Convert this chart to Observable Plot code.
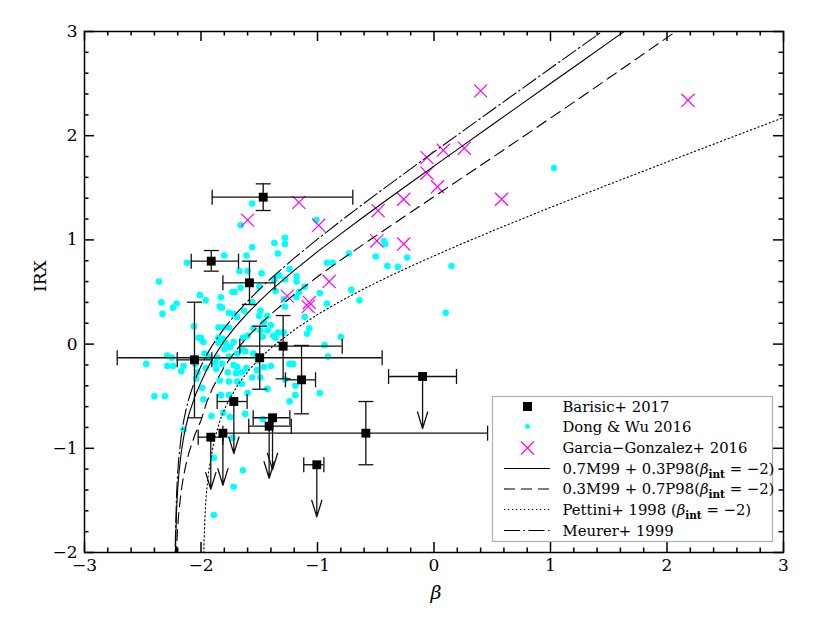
<!DOCTYPE html>
<html><head><meta charset="utf-8">
<script src="https://cdn.jsdelivr.net/npm/d3@7"></script>
<script src="https://cdn.jsdelivr.net/npm/@observablehq/plot@0.6"></script>
<style>body{margin:0;background:#fff}#chart{width:833px;height:623px}</style>
</head><body><div id="chart"></div>
<script>
// ---------- axis ticks ----------
const xMajor = [-3, -2, -1, 0, 1, 2, 3];
const xMinor = [-2.8, -2.6, -2.4, -2.2, -1.8, -1.6, -1.4, -1.2, -0.8, -0.6, -0.4, -0.2, 0.2, 0.4, 0.6, 0.8, 1.2, 1.4, 1.6, 1.8, 2.2, 2.4, 2.6, 2.8];
const yMajor = [-2, -1, 0, 1, 2, 3];
const yMinor = [-1.8, -1.6, -1.4, -1.2, -0.8, -0.6, -0.4, -0.2, 0.2, 0.4, 0.6, 0.8, 1.2, 1.4, 1.6, 1.8, 2.2, 2.4, 2.6, 2.8];

// ---------- Barisic+ 2017 ----------
const barBeta   = [-1.466, -1.912, -1.584, -2.056, -1.496, -1.295, -1.137, -1.718, -1.386, -1.415, -1.916, -1.812, -0.585, -1.006, -0.098];
const barIRX    = [1.410, 0.796, 0.588, -0.151, -0.131, -0.020, -0.343, -0.551, -0.707, -0.788, -0.893, -0.855, -0.855, -1.158, -0.311];
const barBetaLo = [-1.904, -2.084, -1.812, -2.204, -2.719, -1.667, -1.275, -1.861, -1.552, -1.590, -2.024, null, -1.812, -1.118, -0.390];
const barBetaHi = [-0.697, -1.678, -1.366, -1.907, -0.445, -0.788, -1.017, -1.604, -1.237, -1.225, -1.812, null, 0.460, -0.945, 0.193];
const barIRXLo  = [1.282, 0.700, 0.380, -0.707, -0.433, -0.333, -0.669, null, null, null, null, null, -1.158, null, null];
const barIRXHi  = [1.538, 0.898, 0.796, 0.402, 0.172, 0.274, -0.013, null, null, null, null, null, -0.551, null, null];
const barUpper  = [false, false, false, false, false, false, false, true, true, true, true, true, false, true, true];
const limitArrow = 0.5;

// ---------- Dong & Wu 2016 ----------
const dongBeta = [-2.36,-2.47,-2.29,-2.24,-2.25,-2.34,-2.33,-2.21,-2.24,-2.12,-2.40,-2.31,-2.15,-2.17,-2.15,-2.06,-2.04,-2.02,-2.01,-1.96,
-1.83,-1.84,-1.82,-1.76,-1.72,-1.73,-1.71,-1.80,-1.66,-1.69,-1.85,-1.81,-1.76,-2.00,-1.98,-1.85,-1.81,-1.85,-1.79,-1.72,
-1.75,-1.86,-1.82,-1.69,-1.96,-1.77,-1.70,-1.84,-1.76,-1.69,-1.99,-1.83,-1.76,-1.98,-1.81,-1.75,-1.91,-1.73,-1.89,-1.72,
-1.89,-1.66,-1.67,-1.56,-1.61,-1.60,-1.48,-1.37,-1.34,-1.37,-1.33,-1.50,-1.36,-1.63,-1.56,-1.49,-1.46,-1.40,-1.55,-1.49,
-1.43,-1.38,-1.34,-1.64,-1.60,-1.64,-1.62,-1.55,-1.51,-1.46,-1.40,-1.52,-1.56,-1.49,-1.65,-1.60,-1.43,-1.62,-1.47,-1.64,
-1.28,-1.28,-1.24,-1.18,-1.18,-1.28,-1.16,-1.11,-1.18,-1.29,-1.28,-0.98,-0.92,-1.11,-1.07,-1.09,-1.29,-1.21,-1.28,-1.19,
-1.19,-1.24,-0.98,-0.92,-0.87,-0.91,-0.80,-0.73,-0.71,-0.64,-0.43,-0.42,-0.50,-0.40,-0.31,-0.23,0.15,0.10,1.03,-1.56,
-1.01,-2.29,-1.97,-1.94,-2.05,-2.03,-1.88,-1.87,-1.72,-1.76,-1.80,-1.65,-1.61,-1.24,-0.94,-1.36,-1.47,-1.43,-1.50,-1.69];
const dongIRX = [0.60,-0.19,-0.21,-0.21,-0.13,0.40,0.29,0.39,0.35,0.78,-0.50,-0.50,-0.82,-0.26,-0.21,0.17,-0.33,0.06,0.47,0.42,
0.45,0.36,0.35,0.30,0.29,0.50,0.50,0.85,0.54,0.26,0.16,0.16,0.16,0.06,0.02,0.06,0.05,0.01,0.01,0.02,
-0.03,-0.13,-0.19,-0.09,-0.23,-0.27,-0.28,-0.35,-0.36,-0.36,-0.42,-0.49,-0.49,-0.53,-0.66,-0.70,-0.69,-0.90,-1.09,-1.37,
-1.64,1.14,0.70,0.93,0.85,0.70,0.68,0.97,0.87,0.62,0.66,0.55,0.51,0.32,0.40,0.32,0.21,0.18,0.15,0.13,
0.13,0.08,0.11,0.06,0.08,-0.06,-0.07,-0.09,-0.16,-0.22,-0.21,-0.25,-0.32,-0.32,-0.38,-0.47,-0.43,-0.67,-0.72,-1.21,
1.02,0.96,0.72,0.65,0.60,0.62,0.50,0.55,0.45,0.43,0.36,0.49,0.39,0.26,0.15,0.10,0.11,-0.19,-0.34,-0.40,
-0.49,-0.55,-0.47,0.78,0.78,-0.12,0.07,0.87,0.52,0.42,0.99,0.96,0.84,0.75,0.74,0.83,0.75,0.30,1.69,1.35,
1.19,-0.11,-0.09,-0.12,-0.19,-0.27,-0.18,-0.24,-0.20,-0.12,-0.05,-0.27,-0.23,-0.19,-0.01,0.06,0.07,0.27,0.27,-0.22];

// ---------- Garcia-Gonzalez+ 2016 ----------
const ggBeta = [0.40, 2.18, -0.06, 0.08, 0.26, -0.06, 0.03, -0.26, 0.58, -0.26, -0.48, -0.49, -1.16, -1.60, -0.99, -0.90, -1.26, -1.07, -1.08];
const ggIRX  = [2.43, 2.34, 1.79, 1.86, 1.88, 1.64, 1.51, 1.39, 1.39, 0.96, 1.28, 0.99, 1.36, 1.19, 1.14, 0.60, 0.46, 0.40, 0.36];

// ---------- model curves ----------
const mixBeta = [-2.223,-2.22,-2.21,-2.2,-2.19,-2.17,-2.15,-2.13,-2.1,-2.05,-2.0,-1.95,-1.9,-1.8,-1.7,-1.6,-1.5,-1.4,-1.2,-1.0,-0.8,-0.6,-0.4,-0.2,0,0.25,0.5,0.75,1.0,1.25,1.5,1.75,2.0,2.25];
const mix73IRX = [-2.333,-2.031,-1.601,-1.387,-1.241,-1.041,-0.900,-0.791,-0.660,-0.494,-0.365,-0.243,-0.140,0.031,0.172,0.297,0.410,0.515,0.707,0.887,1.058,1.225,1.388,1.549,1.708,1.907,2.105,2.303,2.501,2.698,2.896,3.094];
const mix37IRX = [-2.701,-2.399,-1.969,-1.754,-1.609,-1.409,-1.268,-1.159,-1.028,-0.862,-0.733,-0.554,-0.420,-0.217,-0.061,0.070,0.184,0.288,0.476,0.646,0.807,0.962,1.114,1.265,1.415,1.602,1.790,1.979,2.169,2.360,2.553,2.747,2.941,3.136];
const pettiniBeta = [-1.98,-1.975,-1.965,-1.955,-1.935,-1.885,-1.835,-1.785,-1.685,-1.585,-1.485,-1.385,-1.185,-0.985,-0.785,-0.585,-0.385,-0.185,0.015,0.265,0.515,0.765,1.015,1.265,1.515,1.765,2.015,2.265,2.515,2.765,3.015];
const pettiniIRX  = [-2.234,-1.931,-1.628,-1.450,-1.224,-0.913,-0.726,-0.590,-0.392,-0.245,-0.125,-0.023,0.148,0.294,0.422,0.540,0.650,0.754,0.854,0.975,1.092,1.206,1.318,1.429,1.538,1.646,1.754,1.861,1.968,2.074,2.181];
const meurerBeta = [-2.223,-2.22,-2.21,-2.2,-2.19,-2.17,-2.15,-2.13,-2.1,-2.05,-2.0,-1.95,-1.9,-1.8,-1.7,-1.6,-1.5,-1.4,-1.2,-1.0,-0.8,-0.6,-0.4,-0.2,0,0.25,0.5,0.75,1.0,1.25,1.5];
const meurerIRX  = [-2.179,-1.876,-1.446,-1.232,-1.086,-0.886,-0.745,-0.636,-0.505,-0.339,-0.210,-0.101,-0.007,0.153,0.290,0.412,0.525,0.630,0.825,1.007,1.182,1.352,1.518,1.682,1.845,2.046,2.247,2.447,2.647,2.846,3.046];

const legendLabels = ["Barisic+ 2017", "Dong & Wu 2016", "Garcia\u2212Gonzalez+ 2016", "0.7M99 + 0.3P98(", "0.3M99 + 0.7P98(", "Pettini+ 1998 (", "Meurer+ 1999"];

// ---------- build tables ----------
const pts = barBeta.map((b, i) => ({b, y: barIRX[i], xlo: barBetaLo[i], xhi: barBetaHi[i], ylo: barIRXLo[i], yhi: barIRXHi[i], ul: barUpper[i]}));
const hbars = pts.filter(d => d.xlo != null);
const vbars = pts.filter(d => d.ylo != null);
const uls = pts.filter(d => d.ul);
const dong = dongBeta.map((b, i) => ({b, y: dongIRX[i]}));
const gg = ggBeta.map((b, i) => ({b, y: ggIRX[i]}));
const curve = (bs, ys) => ys.map((y, i) => ({b: bs[i], y}));
const mix73 = curve(mixBeta, mix73IRX), mix37 = curve(mixBeta, mix37IRX);
const pett = curve(pettiniBeta, pettiniIRX), meur = curve(meurerBeta, meurerIRX);

const sym = (x0, y0, x1, y1) => ({draw(ctx) { ctx.moveTo(x0, y0); ctx.lineTo(x1, y1); }});
const vCap = sym(0, -7.5, 0, 7.5), hCap = sym(-7.5, 0, 7.5, 0);
const ink = "#111";
const xLo = xMajor[0], xHi = xMajor[xMajor.length - 1];
const yLo = yMajor[0], yHi = yMajor[yMajor.length - 1];

// layout (pixels) and tick lengths converted to data units for the frame ticks
const W = 833, H = 623, mL = 84, mR = 50, mT = 31, mB = 71;
const pxX = (W - mL - mR) / (xHi - xLo), pxY = (H - mT - mB) / (yHi - yLo);
const tickRows = (vals, len) => vals.flatMap(v => [
  {kind: "x", v, a: yLo, b: yLo + len / pxY},
  {kind: "x", v, a: yHi, b: yHi - len / pxY}
]);
const tickCols = (vals, len) => vals.flatMap(v => [
  {v, a: xLo, b: xLo + len / pxX},
  {v, a: xHi, b: xHi - len / pxX}
]);
const xTicks = [...tickRows(xMajor, 10), ...tickRows(xMinor, 4.5)];
const yTicks = [...tickCols(yMajor, 10), ...tickCols(yMinor, 4.5)];

const svgEl = Plot.plot({
  width: W, height: H,
  marginLeft: mL, marginRight: mR, marginTop: mT, marginBottom: mB,
  style: {fontFamily: "DejaVu Serif", fontSize: "17px", background: "white", color: "black"},
  x: {domain: [xLo, xHi]},
  y: {domain: [yLo, yHi]},
  marks: [
    Plot.dot(dong, {x: "b", y: "y", r: 3.3, fill: "#00ffff"}),
    Plot.dot(gg, {x: "b", y: "y", symbol: "times", r: 6, stroke: "#ff00ff", strokeWidth: 1.2}),
    Plot.line(mix73, {x: "b", y: "y", stroke: "black", strokeWidth: 1.1, clip: true}),
    Plot.line(mix37, {x: "b", y: "y", stroke: "black", strokeWidth: 1.1, strokeDasharray: "11,6", clip: true}),
    Plot.line(pett, {x: "b", y: "y", stroke: "black", strokeWidth: 1.1, strokeDasharray: "1.3,2.7", clip: true}),
    Plot.line(meur, {x: "b", y: "y", stroke: "black", strokeWidth: 1.1, strokeDasharray: "16,3.5,1.5,3.5", clip: true}),
    Plot.ruleY(hbars, {y: "y", x1: "xlo", x2: "xhi", stroke: ink, strokeWidth: 1.3}),
    Plot.dot(hbars, {x: "xlo", y: "y", symbol: vCap, stroke: ink, fill: "none", strokeWidth: 1.3}),
    Plot.dot(hbars, {x: "xhi", y: "y", symbol: vCap, stroke: ink, fill: "none", strokeWidth: 1.3}),
    Plot.ruleX(vbars, {x: "b", y1: "ylo", y2: "yhi", stroke: ink, strokeWidth: 1.3}),
    Plot.dot(vbars, {x: "b", y: "ylo", symbol: hCap, stroke: ink, fill: "none", strokeWidth: 1.3}),
    Plot.dot(vbars, {x: "b", y: "yhi", symbol: hCap, stroke: ink, fill: "none", strokeWidth: 1.3}),
    Plot.arrow(uls, {x1: "b", x2: "b", y1: "y", y2: d => d.y - limitArrow, stroke: ink, strokeWidth: 1.3, headAngle: 34, headLength: 21}),
    Plot.dot(pts, {x: "b", y: "y", symbol: "square", r: 5, fill: "black"}),
    Plot.ruleX(xTicks, {x: "v", y1: "a", y2: "b", stroke: "black", strokeWidth: 1.5}),
    Plot.ruleY(yTicks, {y: "v", x1: "a", x2: "b", stroke: "black", strokeWidth: 1.5}),
    Plot.frame({stroke: "black", strokeWidth: 1.5}),
    Plot.axisX({ticks: xMajor, tickSize: 0, tickPadding: 6, label: null, tickFormat: d3.format("d")}),
    Plot.axisY({ticks: yMajor, tickSize: 0, tickPadding: 7, label: null, tickFormat: d3.format("d")}),
    Plot.text(["IRX"], {frameAnchor: "left", dx: -44, rotate: -90, fontSize: 17}),
    Plot.text(["\u03b2"], {frameAnchor: "bottom", dx: 2, dy: 46, fontSize: 19, fontStyle: "italic"})
  ]
});
document.getElementById("chart").appendChild(svgEl);

// ---------- legend (inside the frame, bottom right) ----------
const svg = d3.select(svgEl);
const lg = svg.append("g").attr("font-family", "DejaVu Serif").attr("font-size", 14.8)
  .attr("fill", "black").attr("text-anchor", "start");
lg.append("rect").attr("x", 492.5).attr("y", 396.5).attr("width", 280).attr("height", 145)
  .attr("fill", "white").attr("stroke", "#b0b0b0").attr("stroke-width", 1.2);
const rowY = [406.5, 426.5, 448, 468.5, 489, 509.5, 530.5];
const symX = 527.5, lx0 = 504, lx1 = 550, tx = 562.5;
lg.append("rect").attr("x", symX - 4.5).attr("y", rowY[0] - 4.5).attr("width", 9).attr("height", 9).attr("fill", "black");
lg.append("circle").attr("cx", symX).attr("cy", rowY[1]).attr("r", 2.5).attr("fill", "#00ffff");
lg.append("path").attr("d", `M${symX-6.5},${rowY[2]-6.5}L${symX+6.5},${rowY[2]+6.5}M${symX-6.5},${rowY[2]+6.5}L${symX+6.5},${rowY[2]-6.5}`)
  .attr("stroke", "#ff00ff").attr("stroke-width", 1.2).attr("fill", "none");
const dashes = [null, "11,6", "1.3,2.7", "16,3.5,1.5,3.5"];
dashes.forEach((da, k) => {
  const l = lg.append("line").attr("x1", lx0).attr("x2", lx1).attr("y1", rowY[3 + k]).attr("y2", rowY[3 + k])
    .attr("stroke", "black").attr("stroke-width", 1.1);
  if (da) l.attr("stroke-dasharray", da);
});
legendLabels.forEach((lab, k) => {
  const t = lg.append("text").attr("x", tx).attr("y", rowY[k]).attr("dy", "0.36em").attr("text-anchor", "start");
  t.append("tspan").text(lab);
  if (k >= 3 && k <= 5) {
    t.append("tspan").attr("font-style", "italic").text("\u03b2");
    t.append("tspan").attr("font-size", 10.5).attr("font-weight", "bold").attr("dy", 4).text("int");
    t.append("tspan").attr("dy", -4).text(" = \u22122)");
  }
});
</script></body></html>
